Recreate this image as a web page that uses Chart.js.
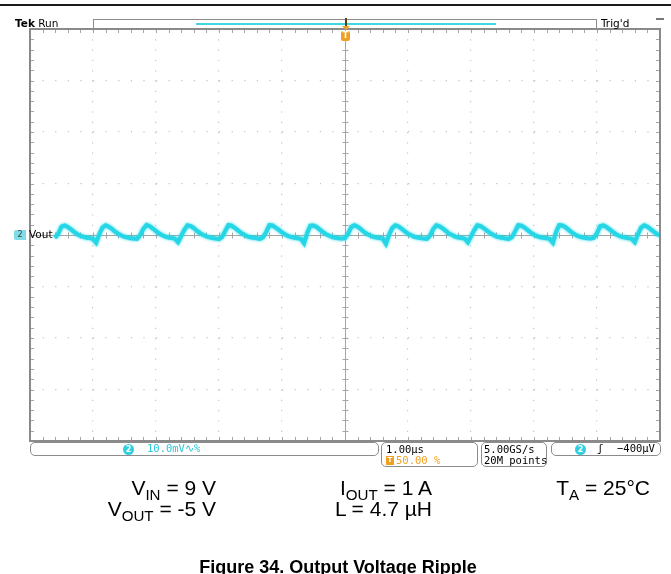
<!DOCTYPE html>
<html>
<head>
<meta charset="utf-8">
<script src="https://cdn.jsdelivr.net/npm/chart.js@4.4.1/dist/chart.umd.min.js"></script>
<style>
  body { margin: 0; background: #fff; }
  #wrap { position: relative; width: 671px; height: 574px; overflow: hidden; font-family: "DejaVu Sans", sans-serif; }
  #scope { position: absolute; left: 0; top: 0; }
  .abs { position: absolute; white-space: nowrap; }
  .ro { font-family: "DejaVu Sans Mono", monospace; font-size: 10.5px; line-height: 11px; }
  .box { position: absolute; box-sizing: border-box; border: 1.5px solid #8c8c8c; border-radius: 5px; }
  .badge { position: absolute; width: 11px; height: 11px; border-radius: 50%; background: #2fcfe0; color: #fff; font: bold 8px "DejaVu Sans", sans-serif; line-height: 11px; text-align: center; }
  .cond { font-family: "Liberation Sans", Arial, sans-serif; font-size: 21px; line-height: 21px; color: #000; }
  .cond sub { font-size: 72%; vertical-align: -0.3em; line-height: 0; }
</style>
</head>
<body>
<div id="wrap">
  <canvas id="scope" width="671" height="574"></canvas>

  <div class="abs" style="left:0;top:4px;width:671px;height:2px;background:#1a1a1a"></div>
  <div class="abs" style="left:15px;top:17px;font-size:10.5px"><b>Tek</b> Run</div>
  <div class="abs" style="left:93px;top:19px;width:504px;height:10px;box-sizing:border-box;border:1px solid #8c8c8c;border-bottom:none"></div>
  <div class="abs" style="left:196px;top:23px;width:300px;height:1.5px;background:#3fd6e4"></div>
  <div class="abs" style="left:345px;top:18px;width:2px;height:9px;background:#5a4416"></div>
  <div class="abs" style="left:342px;top:26px;width:0;height:0;border-left:4px solid transparent;border-right:4px solid transparent;border-top:4px solid #f0a020"></div>
  <div class="abs" style="left:341px;top:31px;width:9px;height:10px;border-radius:2px;background:#f0a020;color:#fff;font:bold 8px 'DejaVu Sans';line-height:10px;text-align:center">T</div>
  <div class="abs" style="left:601px;top:17px;font-size:10.5px">Trig'd</div>
  <div class="abs" style="left:656px;top:18px;width:8px;height:1.5px;background:#777"></div>

  <div class="abs" style="left:14px;top:230px;width:12px;height:10px;background:#7fdde8;color:#444;font:8px 'DejaVu Sans';line-height:10px;text-align:center;border-radius:2px 0 0 2px">2</div>
  <div class="abs" style="left:29px;top:228px;font-size:10.5px">Vout</div>

  <div class="box" style="left:30px;top:442px;width:349px;height:14px"></div>
  <div class="badge" style="left:123px;top:443.5px">2</div>
  <div class="abs ro" style="left:147px;top:443px;color:#2cc6d6">10.0mV&#8767;%</div>

  <div class="box" style="left:381px;top:442px;width:97px;height:25px"></div>
  <div class="abs ro" style="left:386px;top:444px">1.00µs</div>
  <div class="abs" style="left:386px;top:456px;width:8px;height:9px;background:#f0a020;color:#fff;font:bold 7px 'DejaVu Sans';line-height:9px;text-align:center">T</div>
  <div class="abs ro" style="left:396px;top:455px;color:#f0a020">50.00 %</div>

  <div class="box" style="left:481px;top:442px;width:66px;height:25px"></div>
  <div class="abs ro" style="left:484px;top:444px">5.00GS/s</div>
  <div class="abs ro" style="left:484px;top:455px">20M points</div>

  <div class="box" style="left:551px;top:442px;width:110px;height:14px"></div>
  <div class="badge" style="left:575px;top:443.5px">2</div>
  <div class="abs ro" style="left:597px;top:443px">&#643;</div>
  <div class="abs ro" style="left:617px;top:443px">&minus;400µV</div>

  <div class="abs cond" style="right:455px;top:477px">V<sub>IN</sub> = 9 V</div>
  <div class="abs cond" style="right:455px;top:498px">V<sub>OUT</sub> = -5 V</div>
  <div class="abs cond" style="right:239px;top:477px">I<sub>OUT</sub> = 1 A</div>
  <div class="abs cond" style="right:239px;top:498px">L = 4.7 µH</div>
  <div class="abs cond" style="right:21px;top:477px">T<sub>A</sub> = 25°C</div>

  <div class="abs" style="left:0;width:676px;top:557px;text-align:center;font:bold 18px 'Liberation Sans', Arial, sans-serif">Figure 34. Output Voltage Ripple</div>
</div>

<script>
// scope settings: 1.00 us/div, 10.0 mV/div, 10 x 8 divisions
const timeRangeUs = [-5, 5];
const voltRangeMv = [-40, 40];
const startUs = -4.6;
const stepUs = 0.05;

// CH2 Vout ripple (mV), every 0.05 us from -4.6 us
const rippleMv = [
  -0.55, 0.3, 1.65, 1.85, 1.55, 1.1, 0.6, 0.15, -0.15, -0.35, -0.55, -0.6, -0.75,
  -1.5, 0.15, 1.45, 1.9, 1.6, 1.2, 0.65, 0.25, -0.1, -0.35, -0.5, -0.65, -0.7,
  -0.75, 0.0, 1.2, 1.95, 1.7, 1.25, 0.75, 0.3, -0.05, -0.3, -0.5, -0.6, -0.7,
  -1.4, -0.2, 1.0, 1.9, 1.75, 1.35, 0.8, 0.35, 0.0, -0.25, -0.45, -0.6, -0.7,
  -0.8, -0.35, 0.8, 1.95, 1.8, 1.4, 0.9, 0.4, 0.05, -0.25, -0.45, -0.55, -0.65,
  -0.75, -0.45, 0.6, 1.9, 1.85, 1.45, 1.0, 0.5, 0.1, -0.2, -0.4, -0.55, -0.65,
  -0.75, -1.6, 0.4, 1.8, 1.85, 1.55, 1.05, 0.55, 0.15, -0.15, -0.4, -0.55, -0.65,
  -0.7, -0.6, 0.25, 1.55, 1.9, 1.6, 1.15, 0.6, 0.2, -0.1, -0.35, -0.5, -0.6,
  -0.7, -1.7, 0.05, 1.35, 1.9, 1.65, 1.2, 0.7, 0.25, -0.05, -0.35, -0.5, -0.6,
  -0.7, -0.75, -0.1, 1.15, 1.9, 1.7, 1.3, 0.8, 0.3, 0.0, -0.3, -0.5, -0.6,
  -0.7, -1.45, -0.25, 0.9, 1.9, 1.75, 1.35, 0.85, 0.4, 0.05, -0.25, -0.45, -0.55,
  -0.7, -0.75, -0.4, 0.7, 1.9, 1.8, 1.45, 0.95, 0.45, 0.05, -0.2, -0.45, -0.55,
  -0.65, -0.75, -1.5, 0.55, 1.9, 1.85, 1.5, 1.0, 0.5, 0.1, -0.2, -0.4, -0.55,
  -0.65, -0.7, -0.55, 0.35, 1.7, 1.85, 1.55, 1.1, 0.6, 0.15, -0.15, -0.4, -0.5,
  -0.65, -0.7, -1.4, 0.15, 1.45, 1.9, 1.6, 1.15, 0.65, 0.2, -0.1,
];

const traceCyan = "#24d6e6";
const gridGray = "#c4c4c4";
const frameGray = "#8a8a8a";

// center cross, edge ticks and frame like the scope graticule
const graticule = {
  id: "graticule",
  beforeDatasetsDraw(chart) {
    const { ctx, chartArea: a, scales } = chart;
    const x = scales.x;
    const y = scales.y;
    const cx = Math.round(x.getPixelForValue(0)) + 0.5;
    const cy = Math.round(y.getPixelForValue(0)) + 0.5;
    ctx.save();
    ctx.strokeStyle = "#a4a4a4";
    ctx.lineWidth = 1;
    ctx.beginPath();
    ctx.moveTo(a.left, cy);
    ctx.lineTo(a.right, cy);
    ctx.moveTo(cx, a.top);
    ctx.lineTo(cx, a.bottom);
    for (let i = 0; i <= 50; i++) {
      const px = Math.round(x.getPixelForValue(timeRangeUs[0] + i * 0.2)) + 0.5;
      ctx.moveTo(px, cy - 3);
      ctx.lineTo(px, cy + 3);
      ctx.moveTo(px, a.top);
      ctx.lineTo(px, a.top + 4);
      ctx.moveTo(px, a.bottom);
      ctx.lineTo(px, a.bottom - 4);
    }
    for (let i = 0; i <= 40; i++) {
      const py = Math.round(y.getPixelForValue(voltRangeMv[0] + i * 2)) + 0.5;
      ctx.moveTo(cx - 3, py);
      ctx.lineTo(cx + 3, py);
      ctx.moveTo(a.left, py);
      ctx.lineTo(a.left + 4, py);
      ctx.moveTo(a.right, py);
      ctx.lineTo(a.right - 4, py);
    }
    ctx.stroke();
    ctx.restore();
  },
  beforeDatasetDraw(chart) {
    // fuzzy edge of a noisy persistence trace
    chart.ctx.save();
    chart.ctx.shadowColor = traceCyan;
    chart.ctx.shadowBlur = 3;
  },
  afterDatasetDraw(chart) {
    chart.ctx.restore();
  },
  afterDatasetsDraw(chart) {
    const { ctx, chartArea: a } = chart;
    ctx.save();
    ctx.strokeStyle = frameGray;
    ctx.lineWidth = 2;
    ctx.strokeRect(a.left, a.top, a.right - a.left, a.bottom - a.top);
    ctx.restore();
  },
};

document.addEventListener("DOMContentLoaded", function () {
  const scopeCtx = document.getElementById("scope");
  new Chart(scopeCtx, {
    type: "line",
    data: {
      datasets: [
        {
          label: "Vout",
          data: rippleMv.map((v, i) => ({ x: startUs + i * stepUs, y: v })),
          borderColor: traceCyan,
          borderWidth: 4,
          pointRadius: 0,
          tension: 0,
          fill: false,
        },
      ],
    },
    options: {
      responsive: false,
      animation: false,
      events: [],
      layout: {
        padding: { left: 30, top: 29, right: 11, bottom: 133 },
      },
      plugins: {
        legend: { display: false },
        tooltip: { enabled: false },
      },
      scales: {
        x: {
          type: "linear",
          min: timeRangeUs[0],
          max: timeRangeUs[1],
          ticks: { display: false, stepSize: 1 },
          grid: {
            drawTicks: false,
            lineWidth: 1.2,
            color: (c) => (c.tick.value % 5 === 0 ? "rgba(0,0,0,0)" : gridGray),
          },
          border: { display: false, dash: [1.2, 9.1] },
        },
        y: {
          min: voltRangeMv[0],
          max: voltRangeMv[1],
          ticks: { display: false, stepSize: 10 },
          grid: {
            drawTicks: false,
            lineWidth: 1.2,
            color: (c) => (c.tick.value % 40 === 0 ? "rgba(0,0,0,0)" : gridGray),
          },
          border: { display: false, dash: [1.2, 11.4] },
        },
      },
    },
    plugins: [graticule],
  });
});
</script>
</body>
</html>
